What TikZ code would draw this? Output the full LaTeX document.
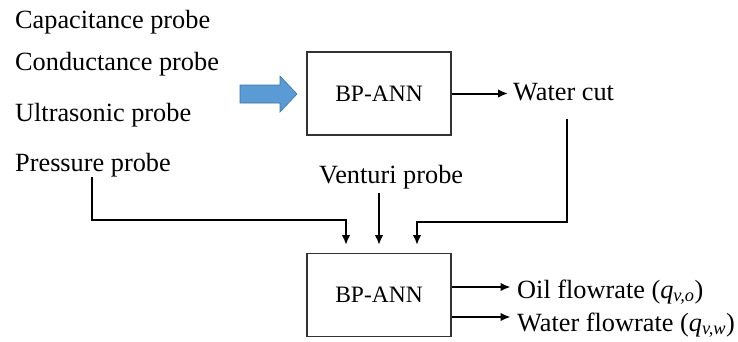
\documentclass[tikz,border=0pt]{standalone}
\usepackage{fontspec}
\setmainfont{Liberation Serif}
\usetikzlibrary{arrows.meta,positioning}
\definecolor{arrowblue}{RGB}{91,155,213}
\definecolor{arrowedge}{RGB}{65,113,156}
\begin{document}
\begin{tikzpicture}[x=1pt,y=-1pt,
  lbl/.style={anchor=base west,inner sep=0pt,font=\fontsize{26.3}{30}\selectfont},
  annbox/.style={draw=black!80,line width=1.3pt,minimum width=144pt,minimum height=83pt,
    inner sep=0pt,font=\fontsize{23.5}{28}\selectfont},
  conn/.style={line width=2pt,-{Latex[length=10pt,width=8.5pt]}},
  wire/.style={line width=2pt}]
\useasboundingbox (0,0) rectangle (738,341);

% probe names
\node[lbl] (cap) at (15,28) {Capacitance probe};
\node[lbl] (con) at (15,70) {Conductance probe};
\node[lbl] (ult) at (15,121) {Ultrasonic probe};
\node[lbl] (pp)  at (15,171) {Pressure probe};

% big blue arrow feeding the first network
\draw[fill=arrowblue,draw=arrowedge,line width=0.6pt]
  (240,85) -- (280,85) -- (280,76) -- (297,94) -- (280,112) -- (280,103) -- (240,103) -- cycle;

% networks
\node[annbox] (ann1) at (379,93.5) {BP-ANN};
\node[annbox] (ann2) at (379,295) {BP-ANN};

% outputs and secondary inputs
\node[lbl] (wc) at (513,100) {Water cut};
\node[lbl] (vp) at (319,183) {Venturi probe};
\node[lbl] (oil) at (517,298) {Oil flowrate (\textit{q}\textsubscript{\textit{v,o}})};
\node[lbl] (wat) at (517,331) {Water flowrate (\textit{q}\textsubscript{\textit{v,w}})};

% helper points on the wiring
\coordinate (pstart) at (92,177);
\coordinate (pbend)  at (346,220);
\coordinate (pend)   at (346,245);
\coordinate (wstart) at (567,119);
\coordinate (wbend)  at (417,222);
\coordinate (wend)   at (417,245);
\coordinate (vstart) at (379,193);
\coordinate (vend)   at (379,245);

\draw[conn] (ann1.east) -- (508,93.5);
\draw[conn] (pstart) |- (pbend) -- (pend);
\draw[conn] (vstart) -- (vend);
\draw[conn] (wstart) |- (wbend) -- (wend);

\draw[conn] ([yshift=8pt]ann2.east) -- ++(59,0);
\draw[conn] ([yshift=-22pt]ann2.east) -- ++(59,0);
\end{tikzpicture}
\end{document}
